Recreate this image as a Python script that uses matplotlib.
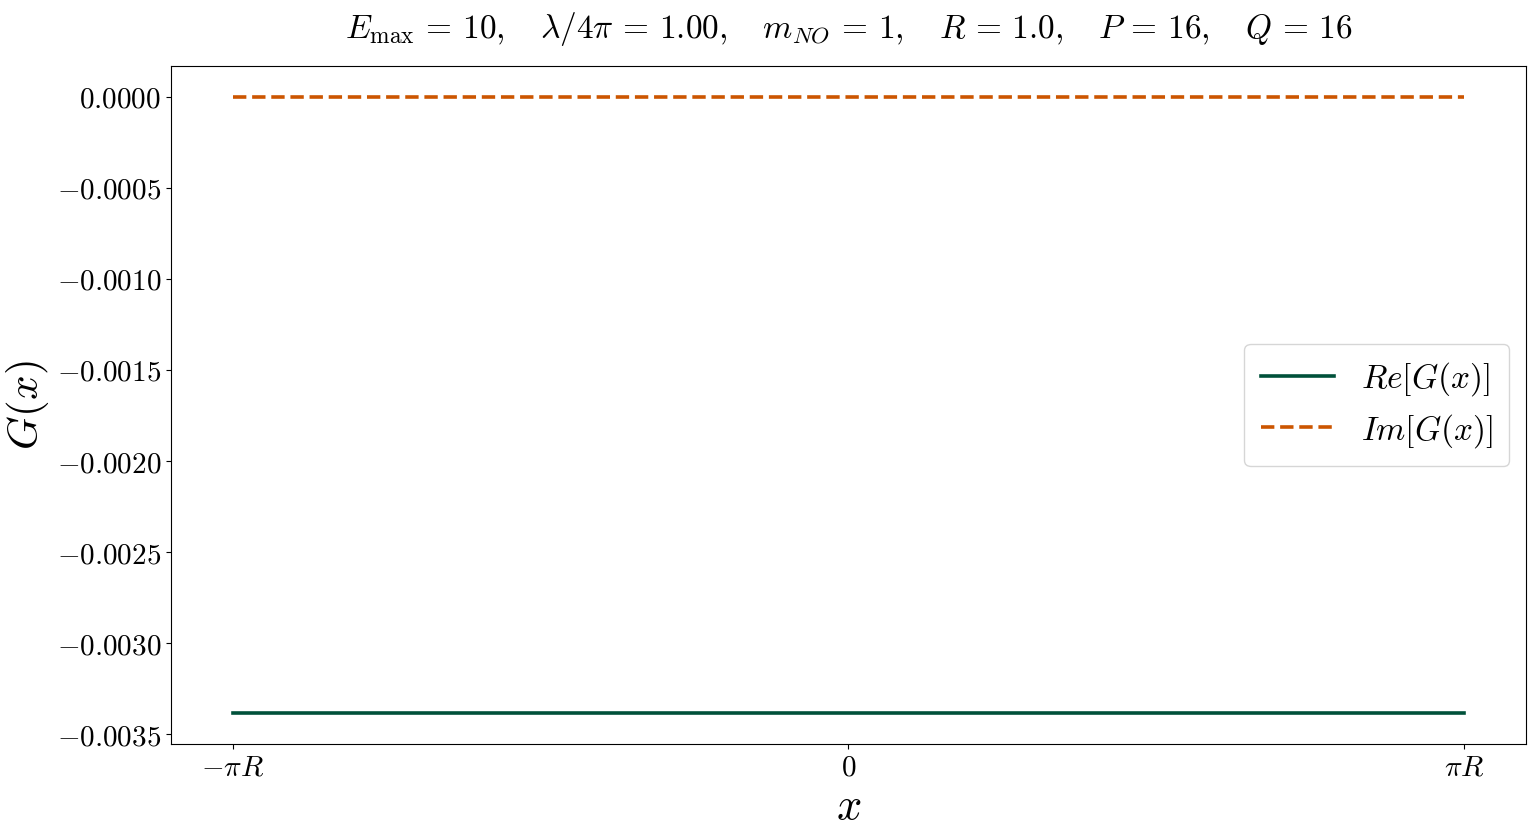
import numpy as np
import matplotlib
matplotlib.use("Agg")
import matplotlib.pyplot as plt
from matplotlib.ticker import FuncFormatter

plt.rcParams['mathtext.fontset'] = 'cm'
plt.rcParams['font.family'] = ['DejaVu Serif']

# Data
x_vals = np.linspace(-np.pi, np.pi, 200)
re_value = -0.003385
im_value = 0.0
re_G = np.full_like(x_vals, re_value)
im_G = np.full_like(x_vals, im_value)

yticks = [0.0, -0.0005, -0.0010, -0.0015, -0.0020, -0.0025, -0.0030, -0.0035]
xticks = [-np.pi, 0, np.pi]
xticklabels = [r'$-\pi R$', r'$0$', r'$\pi R$']

fig = plt.figure(figsize=(15.36, 8.36), dpi=100)
ax = fig.add_axes([0.1113, 0.110, 0.8822, 0.811])

ax.plot(x_vals, re_G, color='#00513a', lw=2.6, label=r'$Re[G(x)]$')
ax.plot(x_vals, im_G, color='#cc5500', lw=2.6, ls='--', label=r'$Im[G(x)]$')

ax.set_xticks(xticks)
ax.set_xticklabels(xticklabels)
ax.set_yticks(yticks)
ax.yaxis.set_major_formatter(FuncFormatter(lambda v, p: r'$%.4f$' % v if abs(v) > 1e-12 else r'$0.0000$'))
ax.tick_params(labelsize=21)

ax.set_xlabel(r'$x$', fontsize=32, labelpad=2)
ax.set_ylabel(r'$G(x)$', fontsize=31, labelpad=4)
ax.set_title(r'$E_{\mathrm{max}} \,=\, 10,\quad \lambda/4\pi \,=\, 1.00,\quad m_{NO} \,=\, 1,\quad R \,=\, 1.0,\quad P \,=\, 16,\quad Q \,=\, 16$',
             fontsize=24, pad=20)

ax.legend(loc='center right', fontsize=24, handlelength=2.2, borderpad=0.5, labelspacing=0.4)

fig.savefig('out.png', dpi=100)
